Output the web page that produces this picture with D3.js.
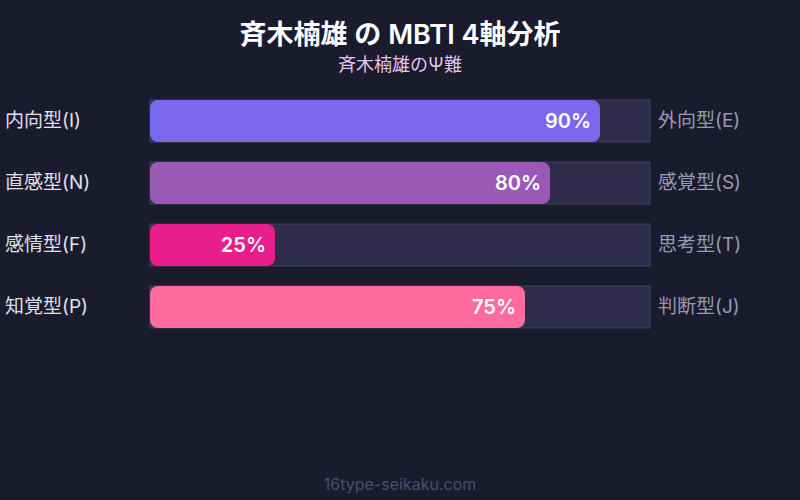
<!DOCTYPE html>
<html><head><meta charset="utf-8">
<script src="https://cdn.jsdelivr.net/npm/d3@7/dist/d3.min.js"></script>
<style>html,body{margin:0;padding:0;background:#1b1b2e;}svg{display:block;font-family:Inter,"Noto Sans CJK JP",sans-serif;}</style>
</head><body><svg id="c" width="800" height="500"></svg>
<script>
const leftLabels = ["内向型(I)", "直感型(N)", "感情型(F)", "知覚型(P)"];
const rightLabels = ["外向型(E)", "感覚型(S)", "思考型(T)", "判断型(J)"];
const values = [90, 80, 25, 75];
const colors = ["#7b68ee", "#9b59b6", "#e91e8c", "#ff6b9d"];
const title = "斉木楠雄 の MBTI 4軸分析";
const subtitle = "斉木楠雄のΨ難";
const footer = "16type-seikaku.com";

const svg = d3.select("#c");
svg.append("rect").attr("width", 800).attr("height", 500).attr("fill", "#1b1b2e");

const x = d3.scaleLinear().domain([0, 100]).range([150, 650]);
const y = d3.scaleBand().domain(d3.range(values.length)).range([100, 328]).paddingInner(20 / 62).paddingOuter(0);
const bh = y.bandwidth();

svg.append("text").attr("x", 400).attr("y", 44).attr("text-anchor", "middle")
  .attr("fill", "#ffffff").attr("font-size", 27).attr("font-weight", 600).text(title);
svg.append("text").attr("x", 400).attr("y", 71).attr("text-anchor", "middle")
  .attr("fill", "#e6c3ee").attr("font-size", 18).text(subtitle);

const g = svg.append("g");
const rows = g.selectAll("g.row").data(values).join("g").attr("class", "row");

rows.append("rect").attr("x", x(0)).attr("y", (d, i) => y(i)).attr("width", x(100) - x(0)).attr("height", bh)
  .attr("fill", "#2e2c4a").attr("stroke", "#45435f").attr("stroke-width", 1);
rows.append("rect").attr("x", x(0)).attr("y", (d, i) => y(i)).attr("width", d => x(d) - x(0)).attr("height", bh)
  .attr("rx", 8).attr("ry", 8).attr("fill", (d, i) => colors[i]);
rows.append("text").attr("x", d => x(d) - 9).attr("y", (d, i) => y(i) + bh / 2 + 7).attr("text-anchor", "end")
  .attr("fill", "#ffffff").attr("font-size", 20).attr("font-weight", 600).text(d => d + "%");
rows.append("text").attr("x", 5).attr("y", (d, i) => y(i) + bh / 2 + 6)
  .attr("fill", "#e0e0ea").attr("font-size", 19).text((d, i) => leftLabels[i]);
rows.append("text").attr("x", 658).attr("y", (d, i) => y(i) + bh / 2 + 6)
  .attr("fill", "#9a9aae").attr("font-size", 19).text((d, i) => rightLabels[i]);

svg.append("text").attr("x", 400).attr("y", 490).attr("text-anchor", "middle")
  .attr("fill", "#4d4d6e").attr("font-size", 16).text(footer);
</script></body></html>
